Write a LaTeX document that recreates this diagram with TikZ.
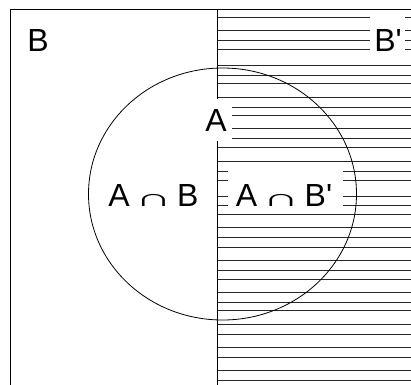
\documentclass[tikz,border=0pt]{standalone}
\usepackage{fontspec}
\setmainfont{Liberation Sans}[Ligatures=TeXOff]
\usepackage{graphicx}
\newcommand{\capsym}{\scalebox{1.6}[0.75]{∩}}
\begin{document}
\begin{tikzpicture}[x=1bp,y=-1bp,
  edge/.style={line width=1bp,black},
  hatch/.style={line width=1bp,black!85},
  blank/.style={fill=white,draw=none},
  lab/.style={inner sep=0pt,font=\fontsize{32bp}{36bp}\selectfont,text height=23bp,text depth=0pt}]
\useasboundingbox (0,0) rectangle (411,385);
% hatching of B'
\foreach \yy in {17,30,40,49,65,75,83,97,107,115,128,138,147,161,171,180,196,205,214,227,237,247,260,270,279,292,302,310,324,334,347,357,370,380}
  \draw[hatch] (217,\yy) -- (411,\yy);
% frame and dividing line
\draw[edge] (10,385) -- (10,9) -- (411,9);
\draw[edge] (217,9) -- (217,385);
% white label backgrounds
\fill[blank] (370,11) rectangle (405,57);
\fill[blank] (200,99) rectangle (232,141);
\fill[blank] (228,165) rectangle (343,209);
% set A
\draw[line width=0.8bp] (222.5,194) ellipse [x radius=134bp, y radius=126bp];
% labels
\node[lab] (b) at (38,40) {B};
\node[lab] (bp) at (388,40) {B'};
\node[lab] (a) at (216,120) {A};
\node[lab] (ab) at (153.5,194.5) {A\,\capsym\,B};
\node[lab] (abp) at (284,194.5) {A\,\capsym\,B'};
\end{tikzpicture}
\end{document}
